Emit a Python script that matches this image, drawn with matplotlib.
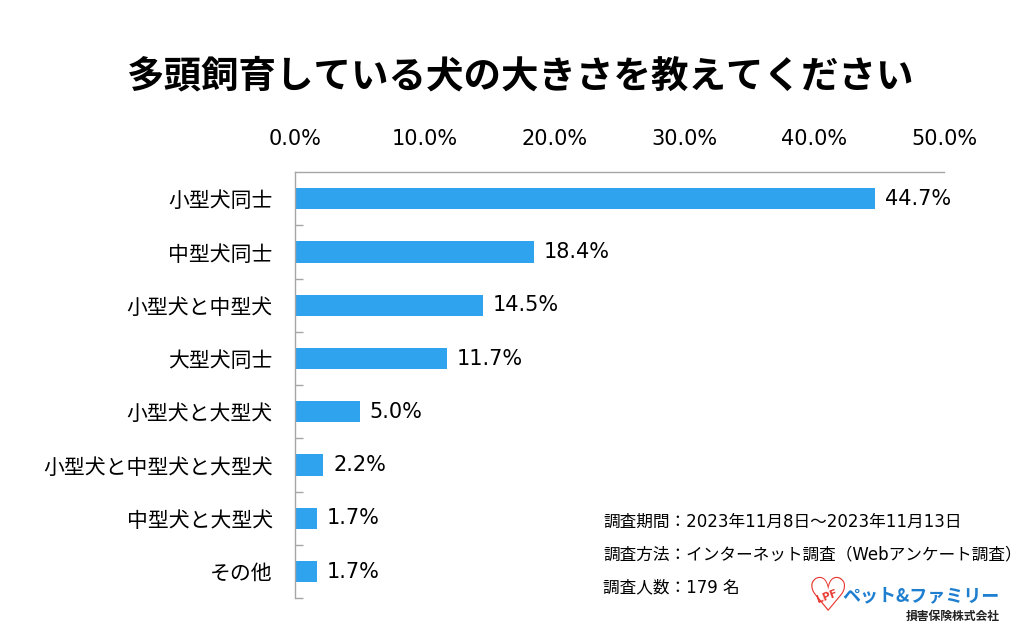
import matplotlib
matplotlib.use('Agg')
import matplotlib.pyplot as plt
import numpy as np

plt.rcParams['font.family'] = ['DejaVu Sans', 'Noto Sans CJK JP']

title = '多頭飼育している犬の大きさを教えてください'
categories = ['小型犬同士', '中型犬同士', '小型犬と中型犬', '大型犬同士',
              '小型犬と大型犬', '小型犬と中型犬と大型犬', '中型犬と大型犬', 'その他']
values = [44.7, 18.4, 14.5, 11.7, 5.0, 2.2, 1.7, 1.7]
x_ticks = [0, 10, 20, 30, 40, 50]
notes = ['調査期間：2023年11月8日～2023年11月13日',
         '調査方法：インターネット調査（Webアンケート調査）',
         '調査人数：179 名']

bar_color = '#2FA3EE'
spine_color = '#A6A6A6'

fig = plt.figure(figsize=(10.24, 6.33), dpi=100)
ax = fig.add_axes([0.288, 0.055, 0.634, 0.673])

y = np.arange(len(categories))
ax.barh(y, values, height=0.4, color=bar_color)
ax.set_ylim(len(categories) - 0.5, -0.5)
ax.set_xlim(0, 50)

for yi, v in zip(y, values):
    ax.text(v + 0.75, yi, f'{v:.1f}%', va='center', ha='left', fontsize=15)

ax.xaxis.tick_top()
ax.set_xticks(x_ticks)
ax.set_xticklabels([f'{t:.1f}%' for t in x_ticks], fontsize=15)
ax.tick_params(axis='x', length=0, pad=17)

ax.set_yticks(y)
ax.set_yticklabels(categories, fontsize=15, family=['Noto Sans CJK JP'])
ax.tick_params(axis='y', which='major', length=0, pad=16)
ax.set_yticks(np.arange(0.5, len(categories)), minor=True)
ax.tick_params(axis='y', which='minor', direction='in', length=6, color=spine_color, width=1)

for s in ['right', 'bottom']:
    ax.spines[s].set_visible(False)
for s in ['left', 'top']:
    ax.spines[s].set_color(spine_color)
    ax.spines[s].set_linewidth(1)

fig.text(0.508, 0.880, title, ha='center', va='center', fontsize=27,
         fontweight='bold', family=['Noto Sans CJK JP'])

for i, line in enumerate(notes):
    fig.text(603 / 1024, 1 - (522 + i * 32.5) / 633, line, ha='left', va='center',
             fontsize=12, family=['DejaVu Sans', 'Noto Sans CJK JP'])

# logo
fig.text(828 / 1024, 1 - 599 / 633, '♡', ha='center', va='center', fontsize=34,
         color='#E8382F', fontweight='bold', family=['DejaVu Sans'])
fig.text(827 / 1024, 1 - 597 / 633, 'LPF', ha='center', va='center', fontsize=7.5,
         color='#E8382F', fontweight='bold', rotation=20)
fig.text(1000 / 1024, 1 - 596 / 633, 'ペット&ファミリー', ha='right', va='center',
         fontsize=13, color='#1E7FD0', fontweight='bold', family=['Noto Sans CJK JP'])
fig.text(1000 / 1024, 1 - 616 / 633, '損害保険株式会社', ha='right', va='center',
         fontsize=8.5, color='#222222', fontweight='bold', family=['Noto Sans CJK JP'])

fig.savefig('out.png', dpi=100, facecolor='white')
